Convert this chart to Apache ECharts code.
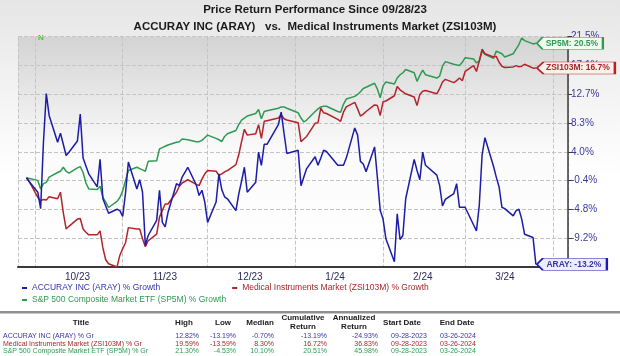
<!DOCTYPE html>
<html><head><meta charset="utf-8">
<script src="https://cdn.jsdelivr.net/npm/echarts@6/dist/echarts.min.js"></script>
<style>html,body{margin:0;padding:0;background:#fff}#c{width:620px;height:356px}</style>
</head><body><div id="c"></div>
<script>
// ---------- DATA ----------
const dates = [
'2023-09-28','2023-09-29',
'2023-10-02','2023-10-03','2023-10-04','2023-10-05','2023-10-06','2023-10-09','2023-10-10','2023-10-11','2023-10-12','2023-10-13',
'2023-10-16','2023-10-17','2023-10-18','2023-10-19','2023-10-20','2023-10-23','2023-10-24','2023-10-25','2023-10-26','2023-10-27','2023-10-30','2023-10-31',
'2023-11-01','2023-11-02','2023-11-03','2023-11-06','2023-11-07','2023-11-08','2023-11-09','2023-11-10','2023-11-13','2023-11-14','2023-11-15',
'2023-11-16','2023-11-17','2023-11-20','2023-11-21','2023-11-22','2023-11-24','2023-11-27','2023-11-28','2023-11-29','2023-11-30',
'2023-12-01','2023-12-04','2023-12-05','2023-12-06','2023-12-07','2023-12-08','2023-12-11','2023-12-12','2023-12-13','2023-12-14',
'2023-12-15','2023-12-18','2023-12-19','2023-12-20','2023-12-21','2023-12-22','2023-12-26','2023-12-27','2023-12-28','2023-12-29',
'2024-01-02','2024-01-03','2024-01-04','2024-01-05','2024-01-08','2024-01-09','2024-01-10','2024-01-11','2024-01-12','2024-01-16','2024-01-17',
'2024-01-18','2024-01-19','2024-01-22','2024-01-23','2024-01-24','2024-01-25','2024-01-26','2024-01-29','2024-01-30','2024-01-31',
'2024-02-01','2024-02-02','2024-02-05','2024-02-06','2024-02-07','2024-02-08','2024-02-09','2024-02-12','2024-02-13','2024-02-14',
'2024-02-15','2024-02-16','2024-02-20','2024-02-21','2024-02-22','2024-02-23','2024-02-26','2024-02-27','2024-02-28','2024-02-29',
'2024-03-01','2024-03-04','2024-03-05','2024-03-06','2024-03-07','2024-03-08','2024-03-11','2024-03-12','2024-03-13','2024-03-14',
'2024-03-15','2024-03-18','2024-03-19','2024-03-20','2024-03-21','2024-03-22','2024-03-25','2024-03-26'
];
const arayGrowth = [
0,-0.6,
-2.2,-4.7,5.5,12.82,9.5,5.4,6.8,5.1,3.4,3.9,5.6,9.7,3.0,1.8,0.6,-1.4,2.8,-3.2,-4.3,-5.4,-4.8,-5.0,
-5.9,-2.3,2.4,-1.7,-0.3,-2.2,-10.3,-8.8,-6.5,-1.9,-6.8,-7.5,-5.3,-0.9,-1.2,0.1,1.6,-1.1,-2.7,-1.9,-3.7,
-6.8,-3.7,0.6,-1.8,-2.9,-3.2,-5.0,-2.5,-0.5,1.6,-2.2,-0.7,3.9,1.9,5.1,5.1,8.1,10.0,6.8,3.7,
4.2,-1.2,0.1,1.4,3.2,1.9,3.0,4.2,4.0,1.9,1.9,1.9,3.0,7.6,6.5,2.5,2.1,0.9,4.7,0.0,-5.0,
-6.3,-9.3,-12.8,-5.5,-9.4,-8.8,-3.2,2.8,1.1,-0.3,3.9,1.9,0.4,-1.2,-4.3,-3.3,-2.4,-0.9,-4.5,-4.5,
-4.5,-7.2,-8.1,-4.2,3.5,6.1,1.8,0.1,-1.4,-4.5,-4.7,-5.8,-5.0,-4.8,-6.3,-8.6,-9.1,-13.19
];
const zsiGrowth = [
0,-0.6,
-3.0,-3.5,-3.3,-3.4,-2.9,-3.2,-2.2,-5.3,-7.8,-7.4,-6.3,-6.2,-7.8,-8.3,-8.7,-8.7,-8.1,-10.7,-12.5,-13.1,-13.59,-11.8,
-10.8,-9.9,-7.6,-7.8,-7.8,-9.3,-10.5,-9.6,-8.6,-6.0,-5.0,-4.0,-4.0,-2.2,-1.3,-0.8,-0.3,-1.0,-1.2,-0.2,0.6,
1.1,1.0,0.35,0.6,0.9,1.1,2.0,3.5,5.5,7.4,6.5,6.7,8.1,6.0,8.6,8.7,9.1,9.6,9.0,8.8,
8.4,5.5,5.9,6.3,8.3,8.4,10.6,9.9,9.8,8.9,8.6,10.0,10.8,11.5,10.5,9.4,9.7,10.1,11.1,11.0,9.5,
11.6,11.7,12.5,13.9,13.4,13.1,12.8,12.3,11.0,12.7,13.2,13.3,12.8,13.6,14.6,15.0,14.5,14.8,15.2,14.8,
16.2,17.1,16.2,17.8,19.59,18.9,18.4,18.5,17.6,17.0,16.8,16.9,17.1,16.9,17.0,17.3,16.7,16.72
];
const sp5mGrowth = [
0,-0.1,
-0.4,-1.7,-0.9,-0.7,0.1,0.8,1.0,1.6,1.0,0.7,1.5,1.7,0.8,-0.8,-1.7,-1.8,-1.3,-3.0,-3.7,-4.53,-3.6,-3.0,
-2.0,-0.4,1.1,1.6,1.4,1.2,1.0,2.5,2.6,4.4,4.6,4.8,5.0,5.4,5.5,5.9,5.8,5.5,5.5,5.7,6.1,
6.5,6.0,5.8,5.5,6.3,6.7,7.2,8.1,8.8,9.1,9.4,9.8,10.4,9.0,10.1,10.2,10.6,10.8,10.8,10.6,
9.9,9.1,8.5,8.8,10.1,10.5,10.8,10.9,10.9,10.1,10.0,11.2,12.0,12.4,12.7,13.1,13.6,13.8,14.4,13.5,12.2,
14.0,14.6,14.3,15.2,15.7,16.0,16.5,16.0,14.7,15.6,16.4,15.7,15.2,15.5,17.0,17.7,17.3,17.2,17.1,17.6,
18.3,18.1,17.5,17.8,19.3,18.8,18.2,19.3,19.1,18.9,18.4,18.9,19.6,20.3,21.3,20.9,20.4,20.51
];
const seriesNames = ['ACCURAY INC (ARAY) % Growth','Medical Instruments Market (ZSI103M) % Growth','S&P 500 Composite Market ETF (SP5M) % Growth'];
const shortNames = ['ARAY','ZSI103M','SP5M'];
const titleLines = ['Price Return Performance Since 09/28/23','ACCURAY INC (ARAY)   vs.  Medical Instruments Market (ZSI103M)'];
const yMin = -13.6, yMax = 21.5, yStep = 4.3875;
const tableHeads = ['Title','High','Low','Median','Cumulative\nReturn','Annualized\nReturn','Start Date','End Date'];
const tableTitles = ['ACCURAY INC (ARAY) % Gr','Medical Instruments Market (ZSI103M) % Gr','S&P 500 Composite Market ETF (SP5M) % Gr'];
const tableHigh = ['12.82%','19.59%','21.30%'];
const tableLow = ['-13.19%','-13.59%','-4.53%'];
const tableMedian = ['-0.70%','8.30%','10.10%'];
const tableCum = ['-13.19%','16.72%','20.51%'];
const tableAnn = ['-24.93%','36.83%','45.98%'];
const tableStart = ['09-28-2023','09-28-2023','09-28-2023'];
const tableEnd = ['03-26-2024','03-26-2024','03-26-2024'];

// ---------- STYLE ----------
const lineColors = ['#1c1ca8','#b3242a','#2e9a52'];
const textColors = ['#3535a8','#a8262b','#2e9a52'];
const tagFills = ['#eeeefb','#fdf0ec','#f1fbf2'];
const tagWidths = [70,78,66];
const FONT = '"Liberation Sans", Arial, sans-serif';
const DAY = 86400000;
const xMinT = new Date(2023,8,25).getTime();
const xMaxT = xMinT + 194.35*DAY;

const chart = echarts.init(document.getElementById('c'), null, {renderer:'canvas'});
const vals = [arayGrowth, zsiGrowth, sp5mGrowth];

function fmtPct(v){ return (Math.round(v*10 + (v>=0?1e-6:-1e-6))/10).toFixed(1) + '%'; }

const series = vals.map((arr,i)=>{
  const last = arr.length-1;
  const w = tagWidths[i];
  return {
    name: seriesNames[i], type:'line', showSymbol:false, symbol:'none',
    data: dates.map((d,k)=>[d, arr[k]]),
    lineStyle:{color:lineColors[i], width:1.5}, itemStyle:{color:lineColors[i]},
    z: 3 + (2-i),
    markPoint:{
      silent:true, animation:false,
      symbol:'path://M0,6 L6,0 L70,0 L70,12 L6,12 Z', symbolSize:[w,12], symbolOffset:[w/2+1,0],
      itemStyle:{color:tagFills[i], borderColor:lineColors[i], borderWidth:1},
      label:{show:true, position:'inside', offset:[2,0], color:textColors[i], fontWeight:'bold', fontSize:8.5, fontFamily:FONT,
        formatter: shortNames[i] + ': ' + arr[last].toFixed(1) + '%'},
      data:[{coord:[dates[last], arr[last]]}]
    }
  };
});

// titles, marker and table graphics
const g = [];
titleLines.forEach((t,i)=>g.push({type:'text', x:315, y:i?27:10, style:{text:t, font:'bold 11.5px '+FONT, fill:'#1a1a1a', textAlign:'center', textVerticalAlign:'middle'}}));
g.push({type:'text', x:41, y:38, style:{text:'N', font:'bold 8px '+FONT, fill:'#2fd42f', textAlign:'center', textVerticalAlign:'middle'}});
g.push({type:'line', shape:{x1:0,y1:312,x2:620,y2:312}, style:{stroke:'#6a6a6a', lineWidth:1.5}});
g.push({type:'line', shape:{x1:0,y1:313.5,x2:620,y2:313.5}, style:{stroke:'#c8c8c8', lineWidth:1}});
const headX = [81,184,223,260,303,354,402,457];
tableHeads.forEach((h,i)=>{
  g.push({type:'text', x:headX[i], y:322.5, style:{text:h, font:'bold 8px '+FONT, fill:'#1a1a1a', textAlign:'center', textVerticalAlign:'middle', lineHeight:9.5}});
});
const rowY = [336,343.6,351.2];
const cols = [[tableHigh,199,'right'],[tableLow,236,'right'],[tableMedian,274,'right'],[tableCum,327,'right'],[tableAnn,378,'right'],[tableStart,409,'center'],[tableEnd,458,'center']];
tableTitles.forEach((t,r)=>{
  g.push({type:'text', x:3, y:rowY[r], style:{text:t, font:'7px '+FONT, fill:textColors[r], textAlign:'left', textVerticalAlign:'middle'}});
  cols.forEach(c=>g.push({type:'text', x:c[1], y:rowY[r], style:{text:c[0][r], font:'7px '+FONT, fill:textColors[r], textAlign:c[2], textVerticalAlign:'middle'}}));
});

const option = {
  animation:false,
  backgroundColor: new echarts.graphic.LinearGradient(0,0,0,1,[{offset:0,color:'#e6e6e6'},{offset:0.5,color:'#ffffff'},{offset:1,color:'#ffffff'}]),
  textStyle:{fontFamily:FONT},
  grid:{left:18, right:52, top:36.7, bottom:89, show:true, borderWidth:0,
    backgroundColor:new echarts.graphic.LinearGradient(0,0,0,1,[{offset:0,color:'#d3d3d3'},{offset:0.5,color:'#fbfbfb'},{offset:1,color:'#ffffff'}])},
  legend:[
    {data:[{name:seriesNames[0], textStyle:{color:textColors[0]}},{name:seriesNames[1], textStyle:{color:textColors[1]}}],
     left:22, top:283.5, icon:'rect', itemWidth:5, itemHeight:2, itemGap:72, selectedMode:false, padding:0,
     textStyle:{fontSize:8.5, fontFamily:FONT}},
    {data:[{name:seriesNames[2], textStyle:{color:textColors[2]}}],
     left:22, top:295.5, icon:'rect', itemWidth:5, itemHeight:2, selectedMode:false, padding:0,
     textStyle:{fontSize:8.5, fontFamily:FONT}}
  ],
  xAxis:{type:'time', min:xMinT, max:xMaxT, splitNumber:7, minInterval:28*DAY, maxInterval:31*DAY,
    axisLine:{show:true, onZero:false, lineStyle:{color:'#3a3a3a', width:2}},
    axisTick:{show:false},
    splitLine:{show:true, lineStyle:{color:'#c4c4c4', type:'dashed', width:1}},
    axisLabel:{color:'#2a2a5a', fontSize:10, fontFamily:FONT, margin:5, align:'left', padding:[0,0,0,30],
      showMinLabel:true, showMaxLabel:true, hideOverlap:false,
      formatter:function(v){const d=new Date(v); if(d.getDate()!==1 || d.getMonth()===3) return ''; return (d.getMonth()+1)+'/'+String(d.getFullYear()).slice(2);}}
  },
  yAxis:{type:'value', position:'right', min:yMin, max:yMax, interval:yStep,
    axisLine:{show:true, lineStyle:{color:'#3a3a3a', width:1.5}},
    axisTick:{show:true, length:4, lineStyle:{color:'#3a3a3a'}},
    splitLine:{show:true, lineStyle:{color:'#c4c4c4', type:'dashed', width:1}},
    axisLabel:{color:'#3a3aa0', fontSize:10, fontFamily:FONT, margin:3, formatter:fmtPct}
  },
  graphic:g,
  series:series
};
chart.setOption(option);
</script></body></html>
